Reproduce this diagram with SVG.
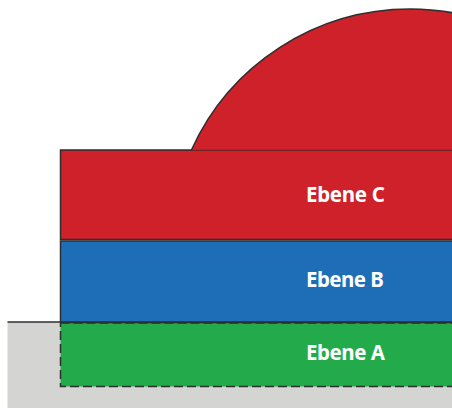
<svg xmlns="http://www.w3.org/2000/svg" width="452" height="408" viewBox="0 0 452 408">
  <style>
    .edge { stroke: #2e2e2e; stroke-width: 1.5; }
    .label { font-family: "Noto Sans", "Open Sans", sans-serif; font-weight: bold; font-size: 20.5px; fill: #ffffff; }
  </style>
  <rect x="0" y="0" width="452" height="408" fill="#ffffff"/>

  <!-- ground -->
  <g id="ground">
    <rect x="7.5" y="322" width="450" height="90" fill="#d4d4d3"/>
    <line x1="7.5" y1="322" x2="452" y2="322" class="edge"/>
  </g>

  <!-- layer A: dashed, embedded in the ground -->
  <g id="ebene-a">
    <rect x="60.5" y="323" width="400" height="63.5" fill="#22aa4b" stroke="#2e2e2e" stroke-width="1.5" stroke-dasharray="9 4"/>
    <line x1="60" y1="322.5" x2="452" y2="322.5" class="edge"/>
    <text class="label" x="306" y="360" textLength="79">Ebene A</text>
  </g>

  <!-- layer B -->
  <g id="ebene-b">
    <rect x="60.5" y="241" width="400" height="81" fill="#1e6db7" class="edge"/>
    <text class="label" x="306" y="287" textLength="78">Ebene B</text>
  </g>

  <!-- layer C with dome -->
  <g id="ebene-c">
    <rect x="60.5" y="150" width="400" height="89.5" fill="#cf2129" class="edge"/>
    <path d="M191.4 150 A240 240 0 0 1 628.6 150 Z" fill="#cf2129"/>
    <path d="M191.4 150 A240 240 0 0 1 628.6 150" fill="none" class="edge"/>
    <line x1="191.4" y1="150.2" x2="452" y2="150.2" stroke="#8e1b22" stroke-width="0.8"/>
    <text class="label" x="306" y="202" textLength="79">Ebene C</text>
  </g>
</svg>
